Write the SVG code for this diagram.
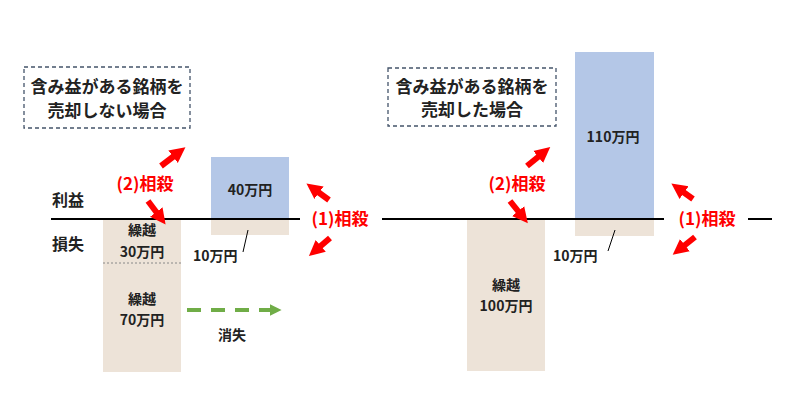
<svg xmlns="http://www.w3.org/2000/svg" width="800" height="416" viewBox="0 0 800 416">
<style>
text{font-family:"Noto Sans CJK JP","Noto Sans",sans-serif;font-weight:bold;fill:#222}
.t{font-size:14px}
.r{font-size:17px;fill:#f00}
.box{fill:#fff;stroke:#44546a;stroke-width:1.3;stroke-dasharray:4 3}
.loss{fill:#ede3d8}
.gain{fill:#b4c7e7}
.ra{stroke:#f00;stroke-width:6;marker-end:url(#rh)}
.base{stroke:#000;stroke-width:2}
</style>
<defs>
<marker id="rh" viewBox="0 0 10 10" refX="4" refY="5" markerWidth="2.6" markerHeight="2.8" orient="auto" markerUnits="strokeWidth"><path d="M0,0L10,5L0,10z" fill="#f00"/></marker>
<marker id="gh" viewBox="0 0 10 10" refX="2" refY="5" markerWidth="3" markerHeight="3.5" orient="auto" markerUnits="strokeWidth"><path d="M0,0L10,5L0,10z" fill="#70ad47"/></marker>
</defs>
<g id="left-title"><rect class="box" x="24" y="67" width="166" height="61"/><text x="107" y="93" text-anchor="middle" font-size="17">含み益がある銘柄を</text><text x="107" y="117" text-anchor="middle" font-size="17">売却しない場合</text></g>
<g id="right-title"><rect class="box" x="388" y="68" width="168" height="58"/><text x="472" y="93" text-anchor="middle" font-size="17">含み益がある銘柄を</text><text x="472" y="116" text-anchor="middle" font-size="17">売却した場合</text></g>
<g id="labels"><text x="52" y="206" font-size="16">利益</text><text x="52" y="250" font-size="16">損失</text></g>
<g id="left-loss"><rect class="loss" x="103" y="219" width="78" height="153"/><line x1="103" y1="263" x2="181" y2="263" stroke="#888" stroke-dasharray="2 2"/>
<text class="t" x="142" y="235" text-anchor="middle">繰越</text><text class="t" x="142" y="257" text-anchor="middle">30万円</text>
<text class="t" x="142" y="304" text-anchor="middle">繰越</text><text class="t" x="142" y="325" text-anchor="middle">70万円</text></g>
<g id="left-gain"><rect class="gain" x="211" y="157" width="78" height="62"/><rect class="loss" x="211" y="219" width="78" height="16"/><text class="t" x="250" y="195" text-anchor="middle">40万円</text>
<text class="t" x="193" y="261">10万円</text></g>
<g id="right-loss"><rect class="loss" x="467" y="219" width="78" height="152"/><text class="t" x="506" y="290" text-anchor="middle">繰越</text><text class="t" x="506" y="311" text-anchor="middle">100万円</text></g>
<g id="right-gain"><rect class="gain" x="575" y="52" width="79" height="167"/><rect class="loss" x="575" y="219" width="79" height="17"/><text class="t" x="613" y="142" text-anchor="middle">110万円</text>
<text class="t" x="553" y="261">10万円</text></g>
<g id="red-labels"><text class="r" x="145" y="190" text-anchor="middle">(2)相殺</text><text class="r" x="340" y="225" text-anchor="middle">(1)相殺</text>
<text class="r" x="517" y="190" text-anchor="middle">(2)相殺</text><text class="r" x="707" y="225" text-anchor="middle">(1)相殺</text><text x="232" y="340" class="t" text-anchor="middle">消失</text></g>
<g id="connectors">
<line class="base" x1="51" y1="219" x2="300" y2="219"/><line class="base" x1="382" y1="219" x2="664" y2="219"/><line class="base" x1="748" y1="219" x2="772" y2="219"/>
<line x1="248" y1="230" x2="243" y2="252" stroke="#000"/><line x1="615" y1="230" x2="608" y2="251" stroke="#000"/>
<line class="ra" x1="161" y1="166" x2="178" y2="153"/><line class="ra" x1="148" y1="201" x2="160" y2="217"/>
<line class="ra" x1="329" y1="200" x2="314" y2="189"/><line class="ra" x1="330" y1="238" x2="316" y2="250"/>
<line class="ra" x1="527" y1="166" x2="543" y2="153"/><line class="ra" x1="510" y1="201" x2="522" y2="216"/>
<line class="ra" x1="693" y1="199" x2="679" y2="189"/><line class="ra" x1="695" y1="237" x2="680" y2="249"/>
<line x1="187" y1="310" x2="272" y2="310" stroke="#70ad47" stroke-width="4" stroke-dasharray="14 10" marker-end="url(#gh)"/>
</g>
</svg>
